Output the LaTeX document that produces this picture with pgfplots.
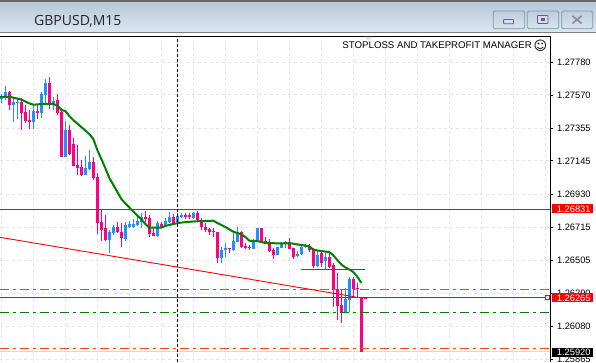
\documentclass[border=0pt]{standalone}
\usepackage{pgfplots}
\usepackage{pgfplotstable}
\usepackage{fontspec}
\setmainfont{Liberation Sans}
\newfontfamily\titlefont{Open Sans}
\newfontfamily\symfont{DejaVu Sans}
\pgfplotsset{compat=1.18}
\definecolor{cBlue}{HTML}{1E90FF}
\definecolor{cPink}{HTML}{FF0080}
\definecolor{cGreen}{HTML}{008000}
\definecolor{cRed}{HTML}{FF0000}
\definecolor{cOrange}{HTML}{FF4500}
\definecolor{cGrid}{HTML}{E6E6E6}
\definecolor{barTop}{RGB}{184,200,216}
\definecolor{barBot}{RGB}{219,230,241}
\definecolor{btnEdge}{RGB}{130,150,170}
\definecolor{btnTop}{RGB}{190,205,222}
\definecolor{btnBot}{RGB}{215,228,240}
\pgfplotstableread{
x top bot hi lo
0 1.27558 1.27542 1.27576 1.27518
1 1.27589 1.27558 1.27627 1.27537
3 1.27526 1.27505 1.27550 1.27397
4 1.27526 1.27520 1.27550 1.27415
8 1.27466 1.27395 1.27505 1.27352
10 1.27576 1.27455 1.27589 1.27421
11 1.27645 1.27571 1.27674 1.27518
13 1.27529 1.27505 1.27555 1.27473
16 1.27344 1.27172 1.27404 1.27172
21 1.27101 1.27054 1.27177 1.27054
22 1.27140 1.27091 1.27215 1.27086
27 1.26685 1.26636 1.26700 1.26550
28 1.26721 1.26679 1.26732 1.26668
31 1.26732 1.26642 1.26753 1.26631
32 1.26737 1.26721 1.26760 1.26715
33 1.26739 1.26717 1.26769 1.26711
34 1.26760 1.26732 1.26786 1.26728
35 1.26786 1.26753 1.26807 1.26711
39 1.26743 1.26663 1.26760 1.26653
41 1.26760 1.26728 1.26777 1.26721
42 1.26786 1.26750 1.26818 1.26743
44 1.26792 1.26750 1.26807 1.26743
45 1.26798 1.26782 1.26807 1.26775
48 1.26811 1.26775 1.26814 1.26769
55 1.26571 1.26518 1.26592 1.26489
56 1.26584 1.26571 1.26614 1.26524
58 1.26629 1.26571 1.26689 1.26567
59 1.26685 1.26625 1.26721 1.26621
63 1.26636 1.26578 1.26640 1.26576
64 1.26715 1.26636 1.26715 1.26631
69 1.26590 1.26539 1.26592 1.26537
70 1.26618 1.26586 1.26625 1.26582
71 1.26621 1.26608 1.26629 1.26582
74 1.26545 1.26533 1.26565 1.26524
75 1.26592 1.26545 1.26599 1.26539
76 1.26603 1.26592 1.26608 1.26584
79 1.26539 1.26468 1.26567 1.26460
81 1.26524 1.26500 1.26567 1.26447
86 1.26254 1.26167 1.26325 1.26164
87 1.26383 1.26249 1.26397 1.26169
}\upbars
\pgfplotstableread{
x top bot hi lo
2 1.27589 1.27507 1.27597 1.27473
5 1.27524 1.27455 1.27550 1.27344
6 1.27460 1.27404 1.27505 1.27389
7 1.27408 1.27397 1.27473 1.27352
9 1.27466 1.27455 1.27505 1.27415
12 1.27645 1.27511 1.27683 1.27481
14 1.27537 1.27455 1.27576 1.27441
15 1.27460 1.27168 1.27486 1.27168
17 1.27344 1.27189 1.27376 1.27183
18 1.27254 1.27114 1.27293 1.27114
19 1.27119 1.27101 1.27247 1.27054
20 1.27104 1.27054 1.27151 1.27050
23 1.27136 1.27033 1.27172 1.27022
24 1.27043 1.26747 1.27065 1.26674
25 1.26750 1.26700 1.26829 1.26629
26 1.26711 1.26636 1.26797 1.26629
29 1.26721 1.26685 1.26753 1.26679
30 1.26689 1.26646 1.26745 1.26592
36 1.26786 1.26771 1.26824 1.26753
37 1.26779 1.26674 1.26797 1.26653
38 1.26679 1.26663 1.26713 1.26661
40 1.26739 1.26721 1.26750 1.26721
43 1.26786 1.26743 1.26803 1.26743
46 1.26797 1.26786 1.26807 1.26769
47 1.26797 1.26786 1.26811 1.26771
49 1.26807 1.26764 1.26822 1.26753
50 1.26764 1.26721 1.26775 1.26700
51 1.26721 1.26700 1.26743 1.26689
52 1.26706 1.26689 1.26715 1.26668
53 1.26696 1.26685 1.26711 1.26657
54 1.26685 1.26518 1.26689 1.26489
57 1.26584 1.26576 1.26584 1.26550
60 1.26685 1.26589 1.26694 1.26582
61 1.26599 1.26586 1.26614 1.26578
62 1.26592 1.26582 1.26603 1.26571
65 1.26715 1.26625 1.26715 1.26614
66 1.26629 1.26618 1.26657 1.26614
67 1.26625 1.26565 1.26640 1.26560
68 1.26571 1.26539 1.26582 1.26513
72 1.26618 1.26578 1.26650 1.26576
73 1.26582 1.26528 1.26586 1.26513
77 1.26599 1.26571 1.26608 1.26560
78 1.26576 1.26468 1.26582 1.26455
80 1.26550 1.26489 1.26567 1.26460
82 1.26524 1.26464 1.26560 1.26455
83 1.26475 1.26314 1.26486 1.26206
84 1.26318 1.26211 1.26421 1.26120
85 1.26217 1.26170 1.26314 1.26103
88 1.26383 1.26318 1.26399 1.26270
89 1.26326 1.26319 1.26361 1.26262
90 1.26267 1.25916 1.26267 1.25916
91 1.26262 1.26256 1.26262 1.26256
}\downbars
\pgfplotstableread{
x ma
-0.33 1.27558
2 1.27558
3 1.27552
5 1.27540
6 1.27528
7 1.27515
8 1.27507
10 1.27511
12 1.27513
13 1.27511
14 1.27502
15 1.27473
16 1.27466
17 1.27434
18 1.27408
20 1.27363
22 1.27318
23 1.27286
24 1.27215
25 1.27157
26 1.27099
27 1.27035
28 1.26990
29 1.26945
30 1.26900
31 1.26871
32 1.26845
33 1.26818
34 1.26793
35 1.26769
36 1.26739
37 1.26715
40 1.26715
41 1.26726
43 1.26739
45 1.26748
48 1.26755
53 1.26760
54 1.26745
56 1.26719
58 1.26689
60 1.26672
61 1.26655
62 1.26631
64 1.26629
66 1.26616
71 1.26613
72 1.26616
74 1.26607
76 1.26600
77 1.26594
78 1.26574
79 1.26568
81 1.26561
82 1.26558
83 1.26536
84 1.26507
85 1.26478
86 1.26459
87 1.26446
88 1.26429
89 1.26399
90 1.26359
}\matable
\begin{document}
\begin{tikzpicture}[x=1pt,y=1pt]
\path[use as bounding box,clip] (0,0) rectangle (596,362);
\fill[white] (0,0) rectangle (596,362);
\begin{axis}[
  at={(0pt,0pt)},anchor=south west,
  scale only axis,width=550.3pt,height=325.7pt,
  xmin=-0.3325,xmax=137.24,
  ymin=1.258499,ymax=1.279474,
  axis x line*=top,axis y line*=right,
  axis line style={-,black,line width=1pt},
  xtick={0,8,...,136},xticklabels={},
  x tick style={draw=none},
  ytick={1.27780,1.27570,1.27355,1.27145,1.26930,1.26715,1.26505,1.26290,1.26080,1.25865},
  y tick style={black,line width=0.8pt},
  tick align=outside,
  major tick length=3pt,
  grid=major,
  major grid style={cGrid,line width=1pt,dash pattern=on 3pt off 3pt},
  yticklabel pos=right,
  yticklabel style={font=\fontsize{9.3}{10}\selectfont,anchor=west,inner sep=0pt,xshift=3.5pt,
    /pgf/number format/.cd,fixed,fixed zerofill,precision=5,assume math mode=true},
  scaled y ticks=false,
]
% gray bid line
\addplot[color=black!15,line width=1pt,forget plot] coordinates {(-0.33,1.25920) (137.24,1.25920)};
% wicks
\addplot[draw=none,mark=none,forget plot,error bars/.cd,y dir=minus,y explicit,error mark=none,
  error bar style={draw=cBlue,line width=1pt,line cap=butt}]
  table[x=x,y=hi,y error expr=\thisrow{hi}-\thisrow{lo}] {\upbars};
\addplot[draw=none,mark=none,forget plot,error bars/.cd,y dir=minus,y explicit,error mark=none,
  error bar style={draw=cPink,line width=1pt,line cap=butt}]
  table[x=x,y=hi,y error expr=\thisrow{hi}-\thisrow{lo}] {\downbars};
% bodies
\addplot[draw=none,mark=none,forget plot,error bars/.cd,y dir=minus,y explicit,error mark=none,
  error bar style={draw=cBlue,line width=3pt,line cap=butt}]
  table[x=x,y=top,y error expr=\thisrow{top}-\thisrow{bot}] {\upbars};
\addplot[draw=none,mark=none,forget plot,error bars/.cd,y dir=minus,y explicit,error mark=none,
  error bar style={draw=cPink,line width=3pt,line cap=butt}]
  table[x=x,y=top,y error expr=\thisrow{top}-\thisrow{bot}] {\downbars};
% moving average
\addplot[color=cGreen,line width=2pt,forget plot] table[x=x,y=ma] {\matable};
% levels
\addplot[color=cRed,line width=0.9pt,forget plot] coordinates {(-0.33,1.26831) (137.24,1.26831)};
\addplot[color=cRed,line width=0.9pt,forget plot] coordinates {(-0.33,1.26265) (137.24,1.26265)};
\addplot[color=cRed,line width=0.9pt,forget plot] coordinates {(74.9,1.26447) (90.9,1.26447)};
\addplot[color=cRed,line width=0.9pt,forget plot] coordinates {(-0.33,1.26653) (88.5,1.26269)};
\addplot[color=cOrange,line width=0.9pt,dash pattern=on 9pt off 4pt on 3pt off 4pt,forget plot] coordinates {(-0.33,1.26318) (137.24,1.26318)};
\addplot[color=cOrange,line width=0.9pt,dash pattern=on 9pt off 4pt on 3pt off 4pt,forget plot] coordinates {(-0.33,1.25938) (137.24,1.25938)};
\addplot[color=cGreen,line width=0.9pt,dash pattern=on 9pt off 4pt on 3pt off 4pt,forget plot] coordinates {(-0.33,1.26170) (137.24,1.26170)};
% crosshair line
\addplot[color=black,line width=1pt,dash pattern=on 3pt off 2pt,forget plot] coordinates {(44.1,1.258499) (44.1,1.279474)};
\end{axis}
% window chrome
\shade[top color=barTop,bottom color=barBot] (0,362-32) rectangle (596,362-2);
\fill[black!60] (0,362-2) rectangle (596,362);
\fill[black!50] (0,362-33.5) rectangle (596,362-32);
\fill[white] (0,362-36) rectangle (596,362-33.5);
\draw[black,line width=1pt] (0,362-36.3) -- (550.8,362-36.3);
\fill[black!10] (364,362-37) -- (373,362-37) -- (368.5,362-41) -- cycle;
\node[anchor=base west,inner sep=0pt,font=\titlefont\fontsize{14}{15}\selectfont,text=black!85] at (34,362-25.7) {GBPUSD,M15};
% buttons
\foreach \a/\b in {493.3/524.7,527.3/558.7,561.7/592.7}{
  \shade[draw=btnEdge,line width=0.8pt,rounded corners=1.5pt,top color=btnTop,bottom color=btnBot] (\a,362-11) rectangle (\b,362-28.7);
}
\draw[black!60,fill=white!85!blue,line width=0.8pt,rounded corners=0.8pt] (503.5,362-19.5) rectangle (513.5,362-23.8);
\draw[black!60,fill=white!85!blue,line width=0.8pt,rounded corners=0.8pt] (537.5,362-15.5) rectangle (548,362-23.5);
\fill[black!60] (540.5,362-18) rectangle (545,362-21);
\draw[black!45,line width=1.6pt] (572.5,362-16) -- (581.5,362-23.5) (581.5,362-16) -- (572.5,362-23.5);
% top text
\node[anchor=base east,inner sep=0pt,font=\fontsize{9.67}{11}\selectfont] at (532,362-49) {STOPLOSS AND TAKEPROFIT MANAGER};
\node[anchor=center,inner sep=0pt,font=\symfont\fontsize{13}{15}\selectfont] at (540.3,362-46) {☺};
% price labels
\fill[cRed] (552,362-203.5) rectangle (592.7,362-213.3);
\node[anchor=base west,inner sep=0pt,text=white,font=\fontsize{9.3}{10}\selectfont] at (556.7,362-212.5) {1.26831};
\fill[cRed] (552,362-292.7) rectangle (592.7,362-302);
\node[anchor=base west,inner sep=0pt,text=white,font=\fontsize{9.3}{10}\selectfont] at (556.7,362-301) {1.26265};
\fill[black] (552,362-347.7) rectangle (592.7,362-356.7);
\node[anchor=base west,inner sep=0pt,text=white,font=\fontsize{9.3}{10}\selectfont] at (556.7,362-355.7) {1.25920};
\draw[cRed,fill=white,line width=0.8pt] (545.8,362-295) rectangle (549.8,362-299);
\end{tikzpicture}
\end{document}
